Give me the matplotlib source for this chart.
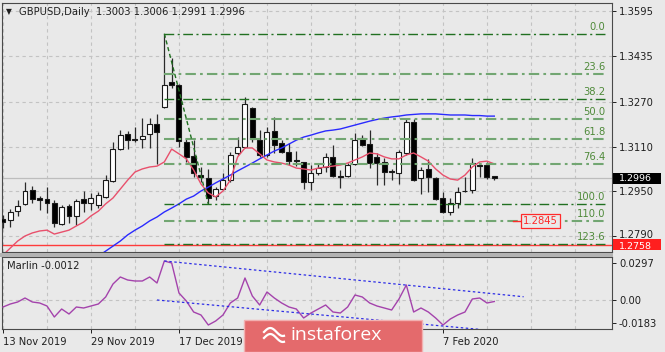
import matplotlib
matplotlib.use('Agg')
import matplotlib.pyplot as plt
import matplotlib.transforms as mtransforms
from matplotlib.patches import Rectangle
from matplotlib.lines import Line2D
import numpy as np

plt.rcParams['font.family'] = ['DejaVu Sans']

# ---------------- data ----------------
title_text = "GBPUSD,Daily  1.3003 1.3006 1.2991 1.2996"

opens = [1.2851, 1.2847, 1.2879, 1.2905, 1.2955, 1.2926, 1.2922, 1.2908, 1.2833, 1.2897,
         1.2862, 1.2922, 1.2908, 1.2901, 1.2930, 1.2987, 1.3101, 1.3155, 1.3137, 1.3137,
         1.3155, 1.3191, 1.3252, 1.3341, 1.3330, 1.3126, 1.3076, 1.3008, 1.2998, 1.2933,
         1.2958, 1.2990, 1.3087, 1.3108, 1.3248, 1.3133, 1.3080, 1.3166, 1.3123, 1.3091,
         1.3061, 1.3055, 1.2983, 1.3015, 1.3037, 1.3073, 1.3005, 1.3005, 1.3048, 1.3141,
         1.3119, 1.3073, 1.3055, 1.3023, 1.3015, 1.3087, 1.3198, 1.2998, 1.3030, 1.2998,
         1.2926, 1.2876, 1.2908, 1.2950, 1.2955, 1.3044, 1.3044, 1.3003]
highs = [1.2865, 1.2887, 1.2919, 1.2983, 1.2969, 1.2933, 1.2965, 1.2919, 1.2901, 1.2905,
         1.2922, 1.2951, 1.2944, 1.2947, 1.3008, 1.3126, 1.3169, 1.3166, 1.3180, 1.3212,
         1.3212, 1.3227, 1.3514, 1.3427, 1.3334, 1.3141, 1.3133, 1.3037, 1.3030, 1.2965,
         1.3015, 1.3091, 1.3144, 1.3287, 1.3252, 1.3169, 1.3180, 1.3216, 1.3133, 1.3123,
         1.3094, 1.3055, 1.3044, 1.3048, 1.3087, 1.3116, 1.3026, 1.3051, 1.3159, 1.3151,
         1.3169, 1.3087, 1.3069, 1.3030, 1.3098, 1.3209, 1.3209, 1.3037, 1.3066, 1.3001,
         1.2947, 1.2926, 1.2965, 1.3001, 1.3069, 1.3051, 1.3055, 1.3006]
lows = [1.2819, 1.2822, 1.2862, 1.2901, 1.2908, 1.2883, 1.2872, 1.2822, 1.2829, 1.2837,
        1.2829, 1.2876, 1.2883, 1.2890, 1.2926, 1.2983, 1.3098, 1.3101, 1.3126, 1.3105,
        1.3105, 1.3048, 1.3248, 1.3320, 1.3108, 1.3055, 1.3001, 1.2983, 1.2905, 1.2919,
        1.2955, 1.2983, 1.3080, 1.3105, 1.3126, 1.3073, 1.3073, 1.3087, 1.3087, 1.3044,
        1.3040, 1.2958, 1.2955, 1.3008, 1.3019, 1.3001, 1.2962, 1.3001, 1.3044, 1.3112,
        1.3033, 1.2972, 1.2972, 1.2990, 1.2976, 1.3080, 1.2987, 1.2940, 1.2947, 1.2919,
        1.2873, 1.2865, 1.2890, 1.2947, 1.2944, 1.3001, 1.2994, 1.2991]
closes = [1.2840, 1.2876, 1.2897, 1.2951, 1.2922, 1.2919, 1.2908, 1.2837, 1.2894, 1.2862,
          1.2915, 1.2908, 1.2926, 1.2937, 1.2990, 1.3101, 1.3151, 1.3133, 1.3134, 1.3148,
          1.3191, 1.3162, 1.3330, 1.3330, 1.3130, 1.3073, 1.3015, 1.3001, 1.2926, 1.2958,
          1.2990, 1.3080, 1.3108, 1.3262, 1.3137, 1.3080, 1.3162, 1.3116, 1.3091, 1.3058,
          1.3058, 1.2983, 1.3015, 1.3033, 1.3073, 1.3005, 1.3001, 1.3044, 1.3133, 1.3116,
          1.3051, 1.3051, 1.3019, 1.3019, 1.3091, 1.3198, 1.2990, 1.3026, 1.3001, 1.2922,
          1.2876, 1.2908, 1.2947, 1.2952, 1.3051, 1.3040, 1.3001, 1.2996]

ma_fast = [1.2722, 1.2747, 1.2772, 1.2790, 1.2801, 1.2808, 1.2811, 1.2797, 1.2804, 1.2811,
           1.2826, 1.2840, 1.2862, 1.2879, 1.2905, 1.2926, 1.2958, 1.2990, 1.3019, 1.3030,
           1.3037, 1.3040, 1.3055, 1.3101, 1.3084, 1.3066, 1.3026, 1.2976, 1.2944, 1.2930,
           1.2951, 1.2990, 1.3073, 1.3105, 1.3105, 1.3084, 1.3062, 1.3055, 1.3051, 1.3044,
           1.3033, 1.3030, 1.3026, 1.3033, 1.3037, 1.3040, 1.3044, 1.3051, 1.3062, 1.3073,
           1.3087, 1.3084, 1.3073, 1.3066, 1.3066, 1.3080, 1.3087, 1.3073, 1.3058, 1.3030,
           1.3008, 1.2994, 1.2990, 1.3008, 1.3037, 1.3055, 1.3058, 1.3048]

ma_slow = [np.nan] * 13 + [
           1.2718, 1.2736, 1.2754, 1.2772, 1.2794, 1.2811, 1.2826, 1.2844, 1.2858, 1.2876,
           1.2890, 1.2905, 1.2922, 1.2933, 1.2951, 1.2965, 1.2980, 1.2994, 1.3008, 1.3023,
           1.3037, 1.3051, 1.3066, 1.3080, 1.3094, 1.3105, 1.3119, 1.3133, 1.3144, 1.3151,
           1.3159, 1.3166, 1.3169, 1.3173, 1.3180, 1.3187, 1.3194, 1.3201, 1.3207, 1.3212,
           1.3216, 1.3219, 1.3223, 1.3225, 1.3227, 1.3227, 1.3227, 1.3225, 1.3223, 1.3223,
           1.3223, 1.3221, 1.3221, 1.3219, 1.3219]

marlin = [-0.0056, -0.0032, -0.0016, 0.0016, -0.0016, -0.0024, -0.0048, -0.0136, -0.0072, -0.0112,
          -0.0056, -0.0064, -0.0048, -0.0032, 0.0024, 0.0128, 0.0184, 0.0160, 0.0152, 0.0152,
          0.0184, 0.0136, 0.0312, 0.0296, 0.0056, -0.0008, -0.0096, -0.0120, -0.0200, -0.0168,
          -0.0120, -0.0024, 0.0016, 0.0176, 0.0032, -0.0040, 0.0064, 0.0016, -0.0024, -0.0056,
          -0.0072, -0.0144, -0.0104, -0.0072, -0.0040, -0.0096, -0.0104, -0.0056, 0.0040, 0.0024,
          -0.0024, -0.0048, -0.0064, -0.0080, 0.0008, 0.0120, -0.0096, -0.0064, -0.0096, -0.0144,
          -0.0200, -0.0152, -0.0120, -0.0096, 0.0008, 0.0016, -0.0024, -0.0012]
marlin_label = "Marlin -0.0012"

# date labels visible in the reference (the ones under the banner are hidden)
date_bars = [0, 12, 24, 60]
date_labels = ['13 Nov 2019', '29 Nov 2019', '17 Dec 2019', '7 Feb 2020']

fib_high, fib_low = 1.3514, 1.2905
fib_high_bar, fib_low_bar = 22, 28
fib_levels = [0.0, 23.6, 38.2, 50.0, 61.8, 76.4, 100.0, 110.0, 123.6]
fib_dark = [True, False, True, False, False, False, True, False, True]

price_ticks = [1.3595, 1.3435, 1.3270, 1.3110, 1.2950, 1.2790]
osc_ticks = [0.0297, 0.0, -0.0183]
osc_tick_labels = ['0.0297', '0.00', '-0.0183']

support_level = 1.2758
current_price = 1.2996
target_price = 1.2845

upper_trend_x, upper_trend_y = [22, 71], [0.0312, 0.0026]
lower_trend_x, lower_trend_y = [21, 65], [0.0000, -0.0235]

# ---------------- figure ----------------
W, H = 665, 352
BG = '#e9e9e9'
fig = plt.figure(figsize=(W / 100, H / 100), dpi=100, facecolor=BG)

x_left, x_right = -0.136, 83.05
ax = fig.add_axes([2 / W, 1 - 252 / H, 610 / W, 249 / H], facecolor=BG)
axo = fig.add_axes([2 / W, 1 - 329 / H, 610 / W, 72 / H], facecolor=BG)

grid_kw = dict(color='#c3c3c3', lw=0.8, ls=(0, (3, 3)), zorder=0)
for a in (ax, axo):
    a.set_xlim(x_left, x_right)
    for gx in range(0, 84, 6):
        a.axvline(gx, **grid_kw)
    for s in a.spines.values():
        s.set_color('#4a4a4a')
        s.set_linewidth(0.8)
    a.yaxis.tick_right()
    a.tick_params(axis='y', length=3, width=0.7, pad=2, labelsize=7.2,
                  colors='#202020', direction='out')

# ---- main panel
ax.set_ylim(1.27328, 1.36237)
for p in price_ticks:
    ax.axhline(p, **grid_kw)
ax.set_yticks(price_ticks)
ax.set_yticklabels([f'{p:.4f}' for p in price_ticks])
ax.set_xticks([])
# nudge the lowest tick label up a little (it sits right above the red price box)
low_lab = ax.get_yticklabels()[-1]
low_lab.set_transform(low_lab.get_transform() +
                      mtransforms.ScaledTranslation(0, 0.02, fig.dpi_scale_trans))

ax.axhline(current_price, color='#bdbdbd', lw=0.9, zorder=1)
ax.axhline(support_level, color='#ff3b3b', lw=1.0, zorder=2)

n = len(opens)
xs = np.arange(n)
for i in range(n):
    o, h, l, c = opens[i], highs[i], lows[i], closes[i]
    ax.vlines(i, l, h, color='#2a2a2a', lw=0.9, zorder=3)
    bull = c >= o
    ax.bar(i, abs(c - o), bottom=min(o, c), width=0.68,
           color='white' if bull else 'black', edgecolor='#1a1a1a',
           linewidth=0.8, zorder=4)

ax.plot(xs, ma_slow, color='#2a2aff', lw=1.0, zorder=5)
ax.plot(xs, ma_fast, color='#e8506c', lw=1.0, zorder=5)

# fibonacci
rng = fib_high - fib_low
fib_end = 82.1
for lvl, dark in zip(fib_levels, fib_dark):
    p = fib_high - rng * lvl / 100.0
    if dark:
        ax.plot([fib_high_bar, fib_end], [p, p], color='#217021', lw=1.0,
                ls=(0, (7, 2.5, 1.5, 2.5)), zorder=6)
    else:
        ax.plot([fib_high_bar, fib_end], [p, p], color='#72a672', lw=1.5,
                ls=(0, (5, 2, 1.3, 2)), zorder=6)
    ax.annotate(f'{lvl:.1f}', xy=(fib_end, p), xytext=(0, 1.2), textcoords='offset points',
                ha='right', va='bottom', fontsize=7.2, color='#4f8a3a', zorder=7)
ax.plot([fib_high_bar, fib_low_bar], [fib_high, fib_low], color='#217021', lw=1.0,
        ls=(0, (3, 2)), zorder=6)

# target price label
ax.plot([69.6, 70.6], [target_price, target_price], color='#ff2a2a', lw=1.0, zorder=7)
ax.text(70.9, target_price, f'{target_price:.4f}', ha='left', va='center', fontsize=7.2,
        color='#ff2a2a', zorder=8,
        bbox=dict(boxstyle='square,pad=0.2', fc=BG, ec='#ff2a2a', lw=0.9))

# right-axis boxes
trans = mtransforms.blended_transform_factory(ax.transAxes, ax.transData)
px = 0.0003578
for price, fc, dy in ((current_price, 'black', 0.0), (support_level, '#ff1f1f', 1.5)):
    r = Rectangle((1.0 + 1 / 610, price - 5.5 * px), 48 / 610, 11 * px, transform=trans,
                  fc=fc, ec='none', clip_on=False, zorder=10)
    ax.add_patch(r)
    ax.text(1.0 + 7 / 610, price - dy * px, f'{price:.4f}', transform=trans, ha='left',
            va='center', fontsize=6.8, color='white', clip_on=False, zorder=11)

# ---- oscillator panel
axo.set_ylim(-0.0232, 0.0344)
axo.axhline(0.0, **grid_kw)
axo.set_yticks(osc_ticks)
axo.set_yticklabels(osc_tick_labels)
axo.plot(xs, marlin, color='#a443ac', lw=1.0, zorder=4)
axo.plot(upper_trend_x, upper_trend_y, color='#2e2ee6', lw=0.9, ls=(0, (2, 2)), zorder=5)
axo.plot(lower_trend_x, lower_trend_y, color='#2e2ee6', lw=0.9, ls=(0, (2, 2)), zorder=5)
axo.set_xticks(date_bars)
axo.set_xticklabels(date_labels)
axo.tick_params(axis='x', length=3, width=0.7, pad=3, labelsize=7.2, colors='#202020')
for t in axo.get_xticklabels():
    t.set_ha('left')

# separator between panels
fig.add_artist(Rectangle((0, 1 - 257 / H), 613 / W, 4 / H, transform=fig.transFigure,
                         fc='#b2b2b2', ec='none', zorder=1))

# texts
fig.text(6 / W, 1 - 12 / H, '\u25BC', fontsize=5.5, color='#202020', va='center', ha='left')
fig.text(19 / W, 1 - 12 / H, title_text, fontsize=7.2, color='#202020', va='center', ha='left')
fig.text(7 / W, 1 - 266 / H, marlin_label, fontsize=7.2, color='#202020', va='center', ha='left')

# instaforex banner
fig.add_artist(Rectangle((244 / W, 0), 178 / W, 32 / H, transform=fig.transFigure,
                         fc='#e46a6c', ec='#f2b0b0', lw=1.0, zorder=20))
fig.text(290 / W, 1 - 335 / H, 'instaforex', fontsize=14, color='white',
         family=['Open Sans', 'DejaVu Sans'], va='center', ha='left', zorder=21)
# small logo swooshes
for dy in (0, 6):
    t = np.linspace(0, 1, 20)
    lx = (264 + 20 * t) / W
    ly = 1 - (332 + dy - 4 * np.sin(np.pi * t * 1.6)) / H
    fig.add_artist(Line2D(lx, ly, transform=fig.transFigure, color='white', lw=1.6,
                          zorder=21))

fig.savefig('out.png', dpi=100, facecolor=BG)
